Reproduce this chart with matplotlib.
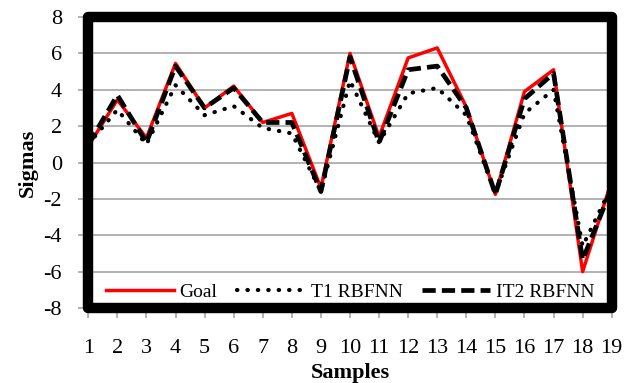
import numpy as np
import matplotlib
matplotlib.use("Agg")
import matplotlib.pyplot as plt
from matplotlib.patches import Rectangle

# data
samples = list(range(1, 20))
goal = [0.9, 3.45, 1.35, 5.45, 3.0, 4.2, 2.2, 2.7, -1.4, 6.0,
        1.4, 5.75, 6.3, 3.05, -1.75, 3.9, 5.1, -6.0, -1.0]
t1_rbfnn = [1.0, 2.9, 1.0, 4.25, 2.6, 3.1, 1.9, 1.6, -1.6, 4.5,
            1.1, 3.8, 4.1, 2.6, -1.7, 2.7, 4.0, -4.6, -1.3]
it2_rbfnn = [1.0, 3.7, 1.1, 5.3, 3.0, 4.1, 2.2, 2.2, -1.6, 5.8,
             1.1, 5.1, 5.3, 3.0, -1.75, 3.5, 4.9, -5.35, -1.4]

plt.rcParams['font.family'] = ['Liberation Serif', 'DejaVu Serif']
plt.rcParams['axes.unicode_minus'] = False

fig = plt.figure(figsize=(6.36, 3.83), dpi=100)
ax = fig.add_axes([0.1388, 0.1958, 0.8230, 0.7598])

ax.plot(samples, goal, color='#ff0000', lw=2.5, label='Goal', zorder=2)
ax.plot(samples, t1_rbfnn, color='black', lw=3.0, linestyle=(0, (0.1, 2.4)),
        dash_capstyle='round', label='T1 RBFNN', zorder=2.1)
ax.plot(samples, it2_rbfnn, color='black', lw=3.4, linestyle=(0, (2.8, 1.3)),
        label='IT2 RBFNN', zorder=2.2)

ax.set_xlim(1, 19)
ax.set_ylim(-8, 8)
ax.set_xticks(samples)
ax.set_yticks(range(-8, 9, 2))
ax.yaxis.grid(True, color='#a6a6a6', lw=1.2)
ax.set_axisbelow(True)

for s in ax.spines.values():
    s.set_visible(False)
ax.tick_params(axis='both', direction='out', length=7, width=1.2,
               color='#a6a6a6', labelsize=16)
ax.tick_params(axis='y', pad=12)
ax.tick_params(axis='x', pad=15)

# thick black frame, Excel style
frame = Rectangle((0, 0), 1, 1, transform=ax.transAxes, fill=False,
                  edgecolor='black', lw=7.5, joinstyle='round',
                  clip_on=False, zorder=3)
ax.add_patch(frame)

ax.set_xlabel('Samples', fontsize=16, fontweight='bold', labelpad=4)
ax.set_ylabel('Sigmas', fontsize=16, fontweight='bold', labelpad=4)

ax.legend(loc='center', bbox_to_anchor=(0.5, 0.055), ncol=3, frameon=False,
          fontsize=14, handlelength=3.5, handletextpad=0.3,
          columnspacing=1.0, borderaxespad=0)

fig.savefig('out.png', dpi=100)
